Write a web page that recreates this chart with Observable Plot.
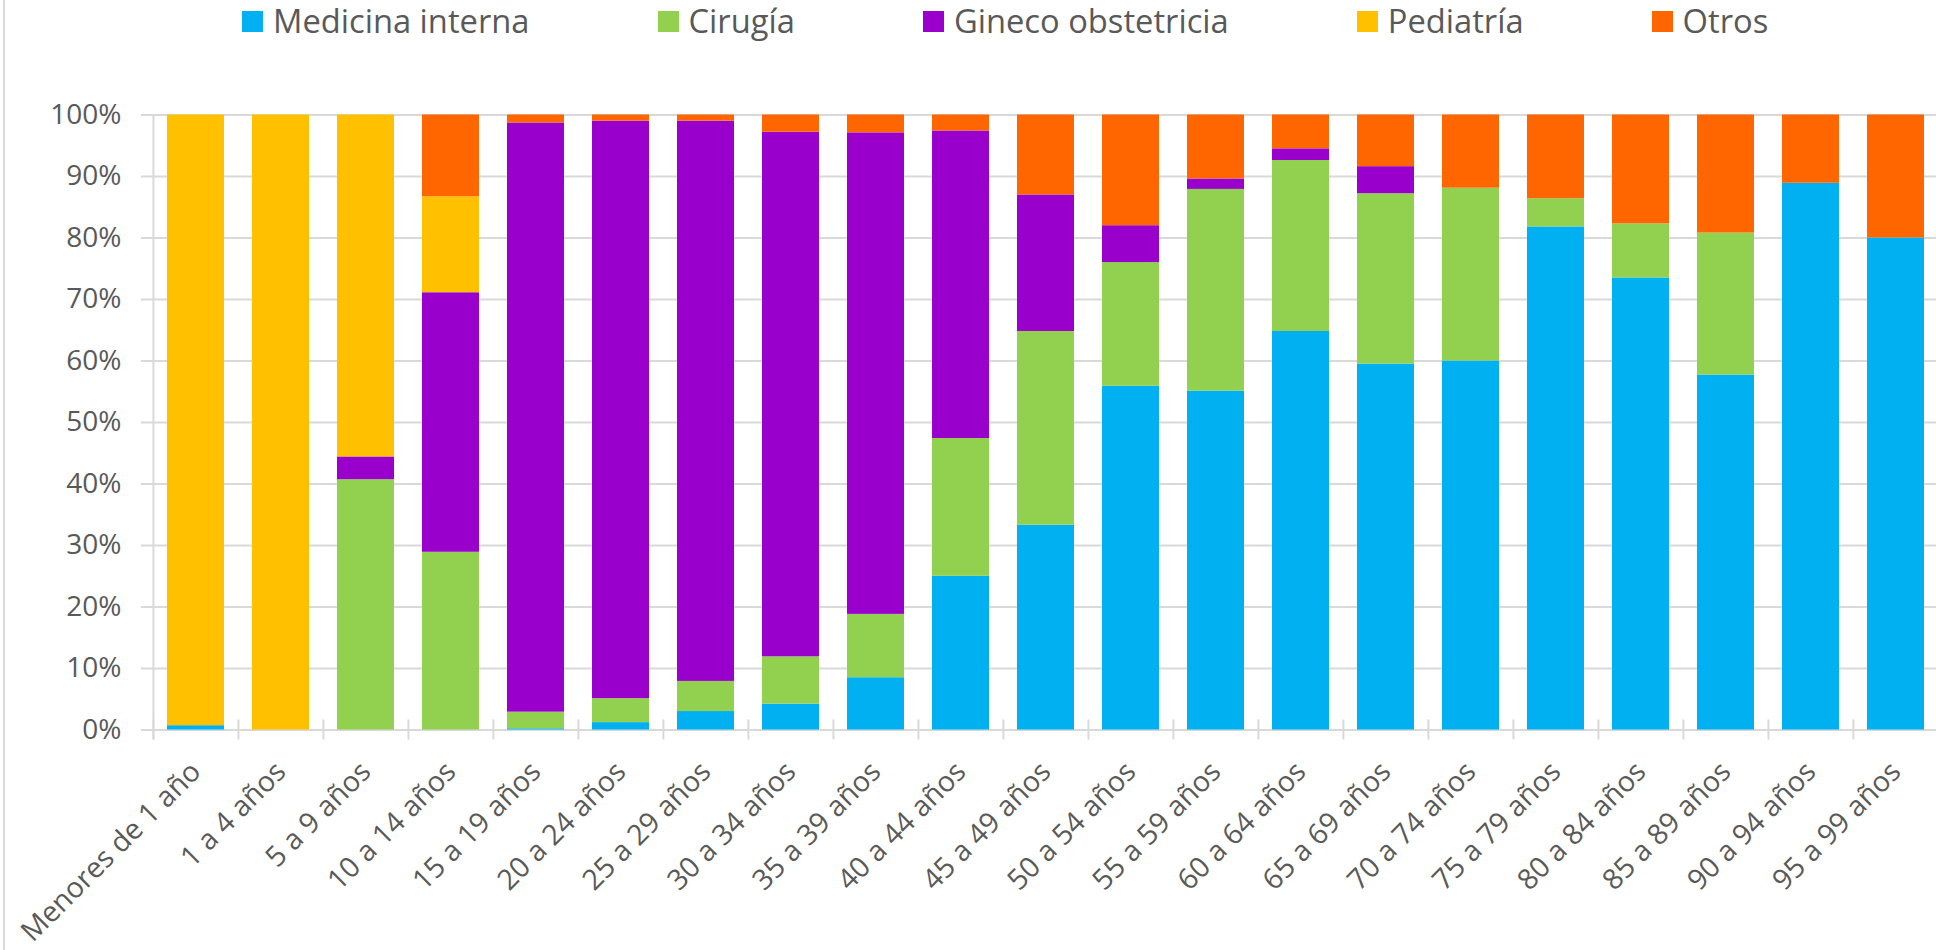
<!DOCTYPE html>
<html>
<head>
<meta charset="utf-8">
<script src="https://cdn.jsdelivr.net/npm/d3@7"></script>
<script src="https://cdn.jsdelivr.net/npm/@observablehq/plot@0.6"></script>
<style>
  html, body { margin: 0; padding: 0; background: #fff; overflow: hidden; width: 1936px; height: 950px; }
  #frame { position: relative; width: 1936px; height: 950px; }
  #border { position: absolute; left: 3px; top: 0; width: 2px; height: 950px; background: #d9d9d9; }
  #legend { height: 50px; display: flex; align-items: flex-start; padding-left: 242px; box-sizing: border-box;
            font-family: "Open Sans", sans-serif; font-size: 32.7px; color: #595959; }
  .item { display: flex; align-items: center; height: 42px; margin-right: 128px; margin-top: 0px; }
  .sw { width: 21px; height: 21px; margin-right: 10px; margin-top: 0px; }
  .lab { white-space: nowrap; line-height: 42px; }
  #chart svg { display: block; }
</style>
</head>
<body>
<div id="frame">
  <div id="border"></div>
  <div id="legend"></div>
  <div id="chart"></div>
</div>
<script>
// ---- Data ----
const categories = ["Menores de 1 año", "1 a 4 años", "5 a 9 años", "10 a 14 años", "15 a 19 años",
  "20 a 24 años", "25 a 29 años", "30 a 34 años", "35 a 39 años", "40 a 44 años", "45 a 49 años",
  "50 a 54 años", "55 a 59 años", "60 a 64 años", "65 a 69 años", "70 a 74 años", "75 a 79 años",
  "80 a 84 años", "85 a 89 años", "90 a 94 años", "95 a 99 años"];

const seriesNames = ["Medicina interna", "Cirugía", "Gineco obstetricia", "Pediatría", "Otros"];
const seriesColors = ["#00B0F0", "#92D050", "#9900CC", "#FFC000", "#FF6600"];

const medicinaInterna = [0.7, 0, 0, 0, 0.2, 1.2, 3.0, 4.2, 8.5, 25.0, 33.3, 55.9, 55.1, 64.8, 59.5, 60.0, 81.8, 73.5, 57.7, 88.9, 80.0];
const cirugia         = [0, 0, 40.7, 28.9, 2.7, 3.9, 4.9, 7.7, 10.3, 22.4, 31.5, 20.1, 32.8, 27.8, 27.7, 28.1, 4.6, 8.8, 23.1, 0, 0];
const ginecoObstetricia = [0, 0, 3.7, 42.2, 95.8, 93.9, 91.1, 85.3, 78.3, 50.0, 22.2, 6.0, 1.7, 1.9, 4.4, 0, 0, 0, 0, 0, 0];
const pediatria       = [99.3, 100, 55.6, 15.6, 0, 0, 0, 0, 0, 0, 0, 0, 0, 0, 0, 0, 0, 0, 0, 0, 0];
const otros           = [0, 0, 0, 13.3, 1.3, 1.0, 1.0, 2.8, 2.9, 2.6, 13.0, 18.0, 10.4, 5.5, 8.4, 11.9, 13.6, 17.7, 19.2, 11.1, 20.0];

const yTicks = [0, 10, 20, 30, 40, 50, 60, 70, 80, 90, 100];

// ---- Build table ----
const seriesValues = [medicinaInterna, cirugia, ginecoObstetricia, pediatria, otros];
const data = seriesNames.flatMap((s, si) =>
  categories.map((c, ci) => ({category: c, series: s, value: seriesValues[si][ci]})));

// ---- Legend ----
const legend = document.getElementById("legend");
seriesNames.forEach((s, i) => {
  const it = document.createElement("div");
  it.className = "item";
  const sw = document.createElement("div");
  sw.className = "sw";
  sw.style.background = seriesColors[i];
  const lab = document.createElement("span");
  lab.className = "lab";
  lab.textContent = s;
  it.appendChild(sw); it.appendChild(lab);
  legend.appendChild(it);
});

// ---- Chart ----
const W = 1936, H = 900, ML = 151, MR = -2.8, MT = 64.5, MB = 220.5;
const step = (W - ML - MR) / categories.length;
const grid = "#d9d9d9";

const chart = Plot.plot({
  width: W, height: H,
  marginLeft: ML, marginRight: MR, marginTop: MT, marginBottom: MB,
  style: {fontFamily: "'Open Sans', sans-serif", fontSize: "28px", color: "#595959", background: "transparent", overflow: "visible"},
  x: {domain: categories, paddingInner: 1/3, paddingOuter: 1/6, label: null},
  y: {domain: [0, 100], label: null},
  color: {domain: seriesNames, range: seriesColors},
  marks: [
    Plot.ruleY(yTicks, {stroke: grid, strokeWidth: 2, insetLeft: -10}),
    Plot.ruleX(categories, {x: d => d, y1: 0, y2: 0, dx: -step / 2, insetTop: -10, insetBottom: -10, stroke: grid, strokeWidth: 2}),
    Plot.ruleX([categories[0]], {x: d => d, dx: -step / 2, insetBottom: -10, stroke: grid, strokeWidth: 2}),
    Plot.barY(data, {x: "category", y: "value", fill: "series", order: seriesNames}),
    Plot.axisY({ticks: yTicks, tickFormat: d => d + "%", tickSize: 0, tickPadding: 30, fontSize: 28, fill: "#595959"}),
    Plot.axisX({tickRotate: -45, tickSize: 0, tickPadding: 37, fontSize: 28.5, fill: "#595959"})
  ]
});
document.getElementById("chart").appendChild(chart);
</script>
</body>
</html>
